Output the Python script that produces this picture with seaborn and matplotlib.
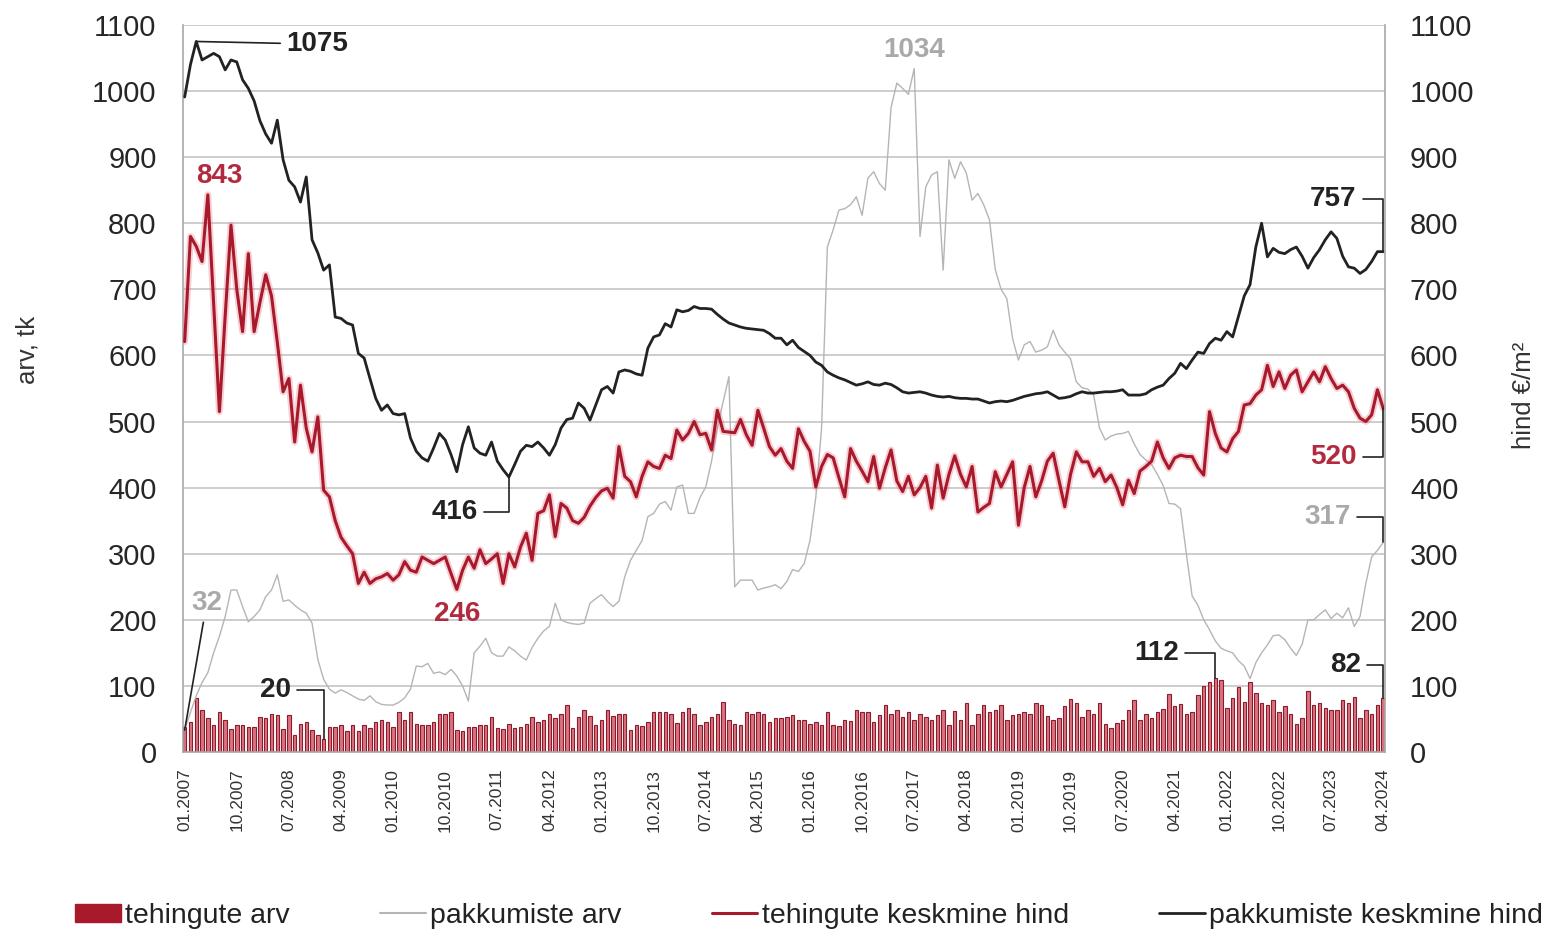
import numpy as np
import pandas as pd
import seaborn as sns
import matplotlib.pyplot as plt
from matplotlib.patches import Patch
from matplotlib.lines import Line2D

# monthly data 01.2007 - 04.2024
months = pd.date_range("2007-01-01", "2024-04-01", freq="MS")

tick_labels = ["01.2007", "10.2007", "07.2008", "04.2009", "01.2010", "10.2010",
               "07.2011", "04.2012", "01.2013", "10.2013", "07.2014", "04.2015",
               "01.2016", "10.2016", "07.2017", "04.2018", "01.2019", "10.2019",
               "07.2020", "04.2021", "01.2022", "10.2022", "07.2023", "04.2024"]

# tehingute arv (bars, left axis)
deals = [38, 45, 81, 64, 51, 41, 61, 48, 34, 41, 41, 38,
         38, 53, 51, 58, 56, 34, 56, 26, 43, 46, 33, 26,
         20, 38, 38, 41, 31, 41, 31, 41, 36, 46, 48, 46,
         38, 61, 48, 61, 43, 41, 41, 46, 58, 58, 61, 33,
         31, 38, 38, 41, 41, 53, 36, 34, 43, 36, 38, 43,
         53, 46, 48, 58, 51, 58, 71, 36, 53, 64, 54, 41,
         49, 64, 54, 58, 58, 33, 41, 39, 46, 60, 60, 60,
         57, 44, 60, 66, 57, 41, 46, 53, 58, 75, 49, 43,
         41, 60, 58, 60, 58, 46, 51, 51, 53, 56, 49, 49,
         43, 46, 41, 61, 41, 39, 49, 47, 64, 60, 60, 46,
         56, 71, 58, 64, 53, 60, 48, 58, 53, 49, 56, 64,
         41, 62, 48, 74, 41, 58, 71, 60, 64, 71, 48, 56,
         58, 61, 58, 74, 71, 54, 49, 51, 69, 80, 74, 53,
         63, 58, 74, 43, 37, 44, 49, 64, 78, 49, 58, 51,
         60, 65, 88, 69, 73, 58, 61, 86, 100, 106, 112, 109,
         66, 81, 99, 76, 106, 89, 74, 71, 79, 60, 69, 58,
         43, 51, 93, 71, 74, 66, 64, 63, 79, 74, 83, 52,
         63, 58, 71, 82]

# pakkumiste arv (grey line, left axis)
offers = [33, 60, 85, 105, 120, 150, 175, 205, 245, 245, 220, 197,
          205, 215, 235, 245, 268, 228, 230, 222, 215, 210, 195, 140,
          110, 95, 89, 94, 90, 85, 80, 78, 85, 76, 72, 71,
          71, 75, 82, 95, 130, 129, 134, 119, 121, 117, 125, 115,
          100, 77, 150, 160, 172, 150, 145, 145, 159, 153, 145, 139,
          158, 172, 183, 190, 225, 200, 196, 194, 193, 195, 225, 232,
          238, 228, 220, 228, 265, 290, 305, 320, 356, 361, 375, 379,
          366, 401, 404, 361, 361, 385, 401, 440, 490, 530, 568, 250,
          260, 260, 260, 245, 248, 250, 253, 247, 258, 276, 273, 285,
          320, 385, 490, 764, 790, 820, 822, 828, 840, 812, 868, 878,
          860, 850, 975, 1012, 1004, 995, 1034, 780, 855, 873, 878, 729,
          896, 868, 893, 876, 835, 845, 828, 805, 730, 700, 686, 625,
          593, 616, 621, 605, 608, 613, 638, 616, 605, 595, 560, 551,
          549, 540, 490, 472, 478, 481, 482, 485, 466, 450, 442, 435,
          420, 403, 376, 375, 368, 300, 236, 222, 200, 185, 168, 157,
          153, 150, 138, 130, 111, 135, 150, 162, 176, 177, 170, 157,
          146, 163, 200, 200, 208, 215, 202, 210, 203, 218, 190, 205,
          255, 295, 305, 317]

# tehingute keskmine hind (red line, right axis)
deal_price = [621, 780, 765, 742, 843, 680, 515, 660, 797, 700, 636, 754,
              636, 680, 722, 690, 620, 545, 565, 469, 555, 490, 454, 507,
              396, 386, 350, 325, 312, 300, 255, 272, 255, 262, 265, 270,
              260, 268, 288, 275, 272, 295, 290, 285, 290, 295, 270, 246,
              275, 295, 278, 306, 285, 292, 300, 255, 300, 280, 310, 331,
              290, 361, 365, 389, 326, 376, 369, 350, 346, 355, 372, 385,
              395, 399, 384, 462, 417, 409, 386, 417, 439, 432, 429, 449,
              444, 487, 472, 482, 500, 480, 482, 457, 517, 485, 484, 483,
              503, 480, 464, 517, 490, 462, 449, 459, 440, 429, 489, 470,
              455, 401, 432, 450, 445, 415, 386, 459, 440, 425, 409, 447,
              399, 430, 457, 410, 394, 417, 389, 400, 417, 369, 434, 384,
              420, 448, 420, 401, 432, 363, 370, 376, 424, 401, 420, 439,
              343, 400, 432, 386, 410, 440, 452, 411, 371, 420, 454, 439,
              439, 417, 429, 409, 419, 400, 374, 411, 391, 425, 432, 440,
              469, 445, 429, 445, 449, 447, 447, 430, 419, 515, 482, 460,
              454, 474, 485, 525, 527, 540, 548, 585, 553, 575, 550, 570,
              578, 545, 560, 575, 560, 583, 565, 550, 555, 545, 520, 505,
              500, 510, 548, 520]

# pakkumiste keskmine hind (black line, right axis)
offer_price = [991, 1040, 1075, 1047, 1052, 1057, 1052, 1032, 1047, 1044, 1017, 1004,
               985, 955, 935, 921, 956, 896, 865, 855, 832, 870, 775, 755,
               729, 737, 658, 656, 649, 646, 603, 596, 565, 535, 517, 525,
               512, 510, 512, 475, 455, 445, 440, 460, 482, 472, 450, 424,
               465, 492, 460, 452, 449, 469, 440, 427, 416, 435, 455, 464,
               462, 469, 460, 449, 465, 490, 503, 505, 528, 520, 502, 525,
               548, 553, 543, 575, 578, 576, 572, 570, 611, 628, 631, 648,
               643, 669, 666, 668, 674, 671, 671, 670, 662, 655, 649, 646,
               643, 641, 640, 639, 638, 633, 626, 626, 616, 623, 612, 606,
               600, 590, 585, 575, 570, 566, 563, 559, 555, 557, 560, 556,
               555, 558, 556, 551, 545, 543, 544, 545, 543, 540, 538, 537,
               538, 536, 535, 535, 534, 534, 531, 528, 530, 531, 530, 532,
               535, 538, 540, 542, 543, 545, 540, 535, 536, 538, 542, 545,
               543, 543, 544, 545, 545, 546, 548, 540, 540, 540, 542, 548,
               552, 555, 565, 573, 588, 580, 593, 605, 603, 618, 626, 623,
               636, 628, 659, 690, 707, 764, 800, 749, 762, 756, 754, 760,
               764, 750, 732, 748, 760, 775, 787, 777, 750, 734, 732, 724,
               730, 742, 757, 757]

df = pd.DataFrame({"idx": np.arange(len(months)), "deals": deals, "offers": offers,
                   "deal_price": deal_price, "offer_price": offer_price})

RED = "#a8192c"
RED_TXT = "#b12a3d"
GREY = "#b5b5b5"
GREY_TXT = "#a9a9a9"
BLACK = "#222222"

sns.set_theme(style="white")
plt.rcParams["font.family"] = ["Liberation Sans", "DejaVu Sans"]

fig = plt.figure(figsize=(15.45, 9.31), dpi=100)
ax = fig.add_axes([0.1184, 0.1923, 0.7780, 0.7809])

# bars
sns.barplot(data=df, x="idx", y="deals", native_scale=True, width=0.6,
            color="#d97382", edgecolor="#8e1a2a", linewidth=0.8, saturation=1,
            ax=ax, zorder=2)
# grey line
sns.lineplot(data=df, x="idx", y="offers", color=GREY, lw=1.0, ax=ax, zorder=3)

ax2 = ax.twinx()
sns.lineplot(data=df, x="idx", y="deal_price", color="#e87a88", lw=5, alpha=0.35, ax=ax2)
sns.lineplot(data=df, x="idx", y="deal_price", color=RED, lw=2.2, ax=ax2)
sns.lineplot(data=df, x="idx", y="offer_price", color=BLACK, lw=2.0, ax=ax2)

for a in (ax, ax2):
    a.set_ylim(0, 1100)
    a.set_yticks(range(0, 1101, 100))
    a.set_xlim(-0.3, 207.3)
    a.set_xlabel("")
    a.set_ylabel("")
    for s in a.spines.values():
        s.set_visible(False)

ax.yaxis.grid(True, color="#c9c9c9", lw=1.3)
ax.set_axisbelow(True)
ax.spines["left"].set_visible(True)
ax.spines["bottom"].set_visible(True)
ax2.spines["right"].set_visible(True)
for s in (ax.spines["left"], ax.spines["bottom"], ax2.spines["right"]):
    s.set_color("#a8a8a8")
    s.set_linewidth(1.2)

ax.set_xticks(range(0, 208, 9))
ax.set_xticklabels(tick_labels, rotation=90, fontsize=12.5, color="#333333")
ax.tick_params(axis="x", length=0, pad=12)
ax.tick_params(axis="y", length=0, pad=19, labelsize=21, labelcolor="#262626")
ax2.tick_params(axis="y", length=0, pad=18, labelsize=21, labelcolor="#262626")

fig.text(28 / 1545, 1 - 350 / 931, "arv, tk", rotation=90, ha="center", va="center",
         fontsize=18.5, color="#333333")
fig.text(1524 / 1545, 1 - 395 / 931, "hind €/m²", rotation=90, ha="center", va="center",
         fontsize=18.5, color="#333333")

# data labels
lead = dict(arrowstyle="-", color=BLACK, lw=1.2, shrinkA=2, shrinkB=0)
elbow = dict(lead, connectionstyle="angle,angleA=0,angleB=90,rad=0")
bold = dict(fontsize=20, fontweight="bold", ha="center", va="center")

ax2.annotate("1075", xy=(2, 1075), xytext=(22.9, 1071), color=BLACK,
             arrowprops=lead, **bold)
ax2.text(6.0, 871, "843", color=RED_TXT, **bold)
ax2.annotate("416", xy=(56, 416), xytext=(46.6, 363), color=BLACK,
             arrowprops=elbow, **bold)
ax2.text(47.1, 209, "246", color=RED_TXT, **bold)
ax2.text(126, 1062, "1034", color=GREY_TXT, **bold)
ax2.annotate("32", xy=(0, 33), xytext=(3.8, 225), color=GREY_TXT,
             arrowprops=lead, **bold)
ax2.annotate("20", xy=(24, 20), xytext=(15.7, 94), color=BLACK,
             arrowprops=elbow, **bold)
ax2.annotate("112", xy=(178, 112), xytext=(167.8, 150), color=BLACK,
             arrowprops=elbow, **bold)
ax2.annotate("82", xy=(207, 82), xytext=(200.5, 132), color=BLACK,
             arrowprops=elbow, **bold)
ax2.annotate("757", xy=(207, 757), xytext=(198.4, 837), color=BLACK,
             arrowprops=elbow, **bold)
ax2.annotate("520", xy=(207, 520), xytext=(198.4, 446), color=RED_TXT,
             arrowprops=elbow, **bold)
ax2.annotate("317", xy=(207, 317), xytext=(197.4, 356), color=GREY_TXT,
             arrowprops=elbow, **bold)

handles = [Patch(facecolor=RED, edgecolor=RED),
           Line2D([], [], color=GREY, lw=1.5),
           Line2D([], [], color=RED, lw=2.2),
           Line2D([], [], color=BLACK, lw=2.0)]
labels = ["tehingute arv", "pakkumiste arv", "tehingute keskmine hind", "pakkumiste keskmine hind"]
fig.legend(handles, labels, loc="center left", bbox_to_anchor=(75 / 1545, 1 - 916 / 931),
           ncol=4, frameon=False, fontsize=20.5, handlelength=1.6, handleheight=0.6,
           handletextpad=0.15, columnspacing=3.18, borderaxespad=0, borderpad=0,
           labelcolor="#222222")

fig.savefig("out.png", dpi=100)
